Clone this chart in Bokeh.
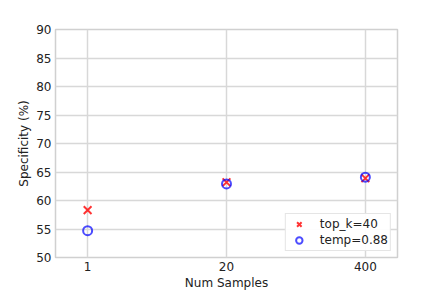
from bokeh.plotting import figure
from bokeh.models import FixedTicker, PrintfTickFormatter, Range1d, Legend, LegendItem
from bokeh.embed import file_html
from bokeh.resources import INLINE

num_samples = [1, 20, 400]
top_k_40 = [58.3, 63.2, 63.9]
temp_088 = [54.7, 62.9, 64.1]
y_ticks = [50, 55, 60, 65, 70, 75, 80, 85, 90]

FONT = "DejaVu Sans"

p = figure(width=433, height=294, x_axis_type="log",
           x_range=Range1d(0.5, 800), y_range=Range1d(50, 90),
           output_backend="svg", toolbar_location=None,
           min_border_left=55, min_border_right=36, min_border_top=29, min_border_bottom=37)

r1 = p.scatter(num_samples, top_k_40, marker="x", size=11, line_color="red", line_alpha=0.8, line_width=2)
r2 = p.scatter(num_samples, temp_088, marker="circle", size=9, fill_color=None, line_color="blue", line_alpha=0.7, line_width=2)

p.xaxis.ticker = FixedTicker(ticks=num_samples)
p.xaxis.formatter = PrintfTickFormatter(format="%d")
p.yaxis.ticker = FixedTicker(ticks=y_ticks)
p.xaxis.minor_tick_line_color = None
p.yaxis.minor_tick_line_color = None

for ax in (p.xaxis[0], p.yaxis[0]):
    ax.axis_line_color = None
    ax.major_tick_line_color = None
    ax.major_tick_out = 0
    ax.major_tick_in = 0
    ax.major_label_text_font = FONT
    ax.major_label_text_font_size = "12px"
    ax.major_label_text_color = "#222222"
    ax.axis_label_text_font = FONT
    ax.axis_label_text_font_size = "12px"
    ax.axis_label_text_font_style = "normal"
    ax.axis_label_text_color = "#222222"

p.xaxis.axis_label = "Num Samples"
p.yaxis.axis_label = "Specificity (%)"
p.xaxis.major_label_standoff = 4
p.xaxis.axis_label_standoff = 2
p.yaxis.major_label_standoff = 4
p.yaxis.axis_label_standoff = 2

p.xgrid.grid_line_color = "#d8d8d8"
p.ygrid.grid_line_color = "#d8d8d8"
p.xgrid.grid_line_width = 1.5
p.ygrid.grid_line_width = 1.5
p.outline_line_color = "#d0d0d0"
p.outline_line_width = 1.5
p.background_fill_color = "white"
p.border_fill_color = "white"

legend = Legend(items=[LegendItem(label="top_k=40", renderers=[r1]),
                       LegendItem(label="temp=0.88", renderers=[r2])],
                location="bottom_right")
legend.label_text_font = FONT
legend.label_text_font_size = "12px"
legend.label_text_color = "#222222"
legend.border_line_color = "#cccccc"
legend.border_line_width = 1
legend.padding = 2
legend.spacing = 0
legend.margin = 6
legend.glyph_width = 22
legend.glyph_height = 16
legend.label_height = 16
legend.label_standoff = 10
p.add_layout(legend)

open("out.html", "w").write(file_html(p, INLINE))
